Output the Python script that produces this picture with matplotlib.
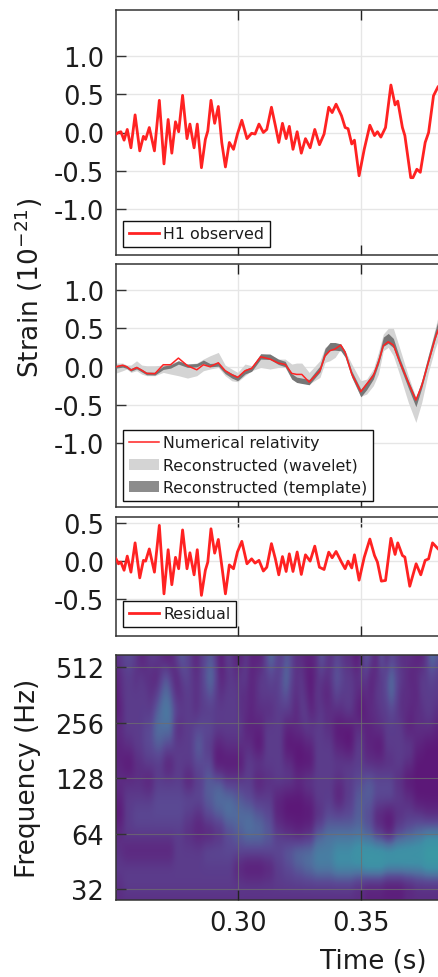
import numpy as np
import matplotlib
matplotlib.use("Agg")
import matplotlib.pyplot as plt
from matplotlib.colors import LinearSegmentedColormap
from matplotlib.lines import Line2D
from matplotlib.patches import Patch
from matplotlib.legend_handler import HandlerLine2D

# ---- data: (ms after 0.25 s, strain in 1e-21) ----
h1_observed = [(0,-0.02),(1,0),(2,0.01),(3.3,-0.10),(4.6,0.04),(6.1,-0.20),(7.8,0.23),(9.7,-0.24),(11.2,-0.05),(12.1,-0.09),
 (13.6,0.065),(15.7,-0.24),(17.7,0.42),(19.6,-0.41),(21.3,0.17),(22.8,-0.27),(24.3,0.14),(25.6,0.01),(27.2,0.485),(29,-0.08),
 (30.2,0.11),(31.9,-0.20),(33.2,0.11),(34.9,-0.46),(36.5,-0.09),(37.5,0.02),(38.8,0.42),(40.3,0.12),(41.8,0.34),(43.2,-0.13),
 (44.7,-0.45),(46.3,-0.13),(48,-0.22),(49.6,-0.02),(51.4,0.16),(53.5,-0.08),(55.4,-0.01),(56.8,-0.02),(58.4,0.11),(60.2,0),
 (61.6,0.04),(63.5,0.33),(65.1,0.09),(66.5,-0.13),(68,0.12),(69.5,-0.08),(70.8,0.08),(72.3,-0.22),(74,0.01),(75.7,-0.27),
 (77.4,-0.08),(79.3,-0.20),(81.2,0.04),(83.1,-0.16),(85,-0.02),(86.9,0.33),(88.3,0.26),(89.9,0.37),(92.1,0.22),(93.6,0.065),
 (94.8,0.05),(96.3,-0.15),(97.4,-0.10),(99.3,-0.565),(101.4,-0.22),(103.7,0.095),(105.6,-0.04),(106.8,0.01),(108.2,-0.06),(110.1,0.065),
 (112.3,0.62),(114,0.36),(115.1,0.41),(117,0.065),(118,-0.04),(120.4,-0.59),(121.3,-0.59),(122.9,-0.48),(124.3,-0.52),(126.3,-0.13),
 (127.7,0),(129.7,0.48),(131.6,0.6),(134,0.65)]

residual = [(0,0.03),(1,-0.035),(2,-0.013),(3.3,-0.12),(4.6,0.066),(6.1,-0.145),(7.8,0.24),(9.7,-0.22),(11.2,0.01),(12.1,0),
 (13.6,0.16),(15.7,-0.145),(17.7,0.47),(19.6,-0.43),(21.3,0.15),(22.8,-0.31),(24.3,0.05),(25.6,-0.10),(27.2,0.41),(29,-0.10),
 (30.2,0.11),(31.9,-0.18),(33.2,0.15),(34.9,-0.45),(36.5,-0.12),(37.5,-0.013),(38.8,0.425),(40.3,0.105),(41.8,0.285),(43.2,-0.057),
 (44.7,-0.43),(46.3,-0.05),(48,-0.10),(49.6,0.12),(51.4,0.26),(53.5,-0.035),(55.4,0.03),(56.8,-0.026),(58.4,0.01),(60.2,-0.13),
 (61.6,-0.08),(63.5,0.23),(65.1,0.03),(66.5,-0.18),(68,0.06),(69.5,-0.136),(70.8,0.096),(72.3,-0.136),(74,0.12),(75.7,-0.175),
 (77.4,0.083),(79.3,0),(81.2,0.197),(83.1,-0.08),(85,-0.11),(86.9,0.118),(88.3,0.044),(89.9,0.127),(92.1,-0.013),(93.6,-0.10),
 (94.8,0),(96.3,-0.09),(97.4,0.083),(99.3,-0.25),(101.4,0.05),(103.7,0.29),(105.6,0.074),(106.8,-0.013),(108.4,-0.263),(110.1,-0.254),
 (112.3,0.30),(114,0.088),(115.1,0.24),(117,0.074),(118,0.053),(120,-0.33),(122.6,-0.035),(124.5,-0.18),(126.3,0.01),(127.7,0.03),
 (129.3,0.24),(131.6,0.16),(134,0.1)]

recon_ms = [0,2.7,4.4,6.1,8.4,10.5,12.5,15.9,19.3,22.3,25.5,29.2,33,35.7,38.4,41.8,44.6,47.3,49.7,52.7,55.4,59.1,
 62.9,66.3,69.1,71.8,73.8,75.9,78.9,
 83.3,85.4,87.4,89.5,91.8,93.6,96.3,100,102.4,105.1,107.2,109.2,111.2,113.3,116,119.4,122.5,124.9,127.6,130.3,131.5,134]
numerical_relativity = [0,0.02,0,-0.045,-0.01,-0.045,-0.087,-0.09,0.026,0.026,0.113,0.013,-0.04,0.026,0,0.052,-0.052,-0.104,-0.139,-0.052,-0.022,0.13,
 0.1,0.048,0.03,-0.087,-0.1,-0.1,-0.2,
 -0.052,0.144,0.209,0.231,0.283,0.188,-0.095,-0.326,-0.226,-0.117,0.057,0.274,0.326,0.283,0.057,-0.204,-0.435,-0.248,0.057,0.362,0.47,0.62]
template_mid = [0,0.013,-0.004,-0.04,-0.01,-0.05,-0.087,-0.09,-0.013,0.004,0.056,0.013,0.02,0.065,0.02,0.03,-0.065,-0.117,-0.152,-0.065,-0.03,0.135,
 0.13,0.065,0.035,-0.126,-0.17,-0.183,-0.2,
 -0.03,0.188,0.266,0.266,0.253,0.166,-0.095,-0.343,-0.248,-0.117,0.078,0.326,0.37,0.309,0.057,-0.226,-0.465,-0.226,0.1,0.405,0.535,0.72]
template_half = [0.018,0.018,0.018,0.018,0.018,0.018,0.018,0.018,0.022,0.022,0.022,0.022,0.022,0.022,0.022,0.022,0.025,0.03,0.03,0.03,0.03,0.035,
 0.035,0.035,0.035,0.035,0.035,0.035,0.035,
 0.04,0.05,0.05,0.05,0.045,0.04,0.04,0.05,0.05,0.045,0.05,0.06,0.065,0.06,0.05,0.05,0.057,0.05,0.05,0.055,0.06,0.07]
wavelet_high = [0.048,0.048,0.022,0.022,0.078,0.022,0.013,0.013,0.022,0.048,0.078,0.035,0.048,0.1,0.143,0.187,0.022,-0.03,-0.074,0.035,0.013,0.152,
 0.165,0.1,0.1,0.035,0.048,0.048,-0.074,
 0.079,0.253,0.296,0.296,0.296,0.209,0.035,-0.182,-0.161,-0.03,0.188,0.427,0.501,0.501,0.231,-0.117,-0.4,-0.182,0.144,0.492,0.644,0.9]
wavelet_low = [-0.083,-0.052,-0.03,-0.074,-0.052,-0.096,-0.117,-0.117,-0.074,-0.096,-0.117,-0.148,-0.117,-0.052,-0.03,-0.009,-0.117,-0.183,-0.196,-0.117,-0.052,-0.009,
 -0.03,-0.009,-0.009,-0.161,-0.196,-0.213,-0.226,
 -0.139,0.057,0.079,0.122,0.231,0.122,-0.139,-0.387,-0.356,-0.248,-0.095,0.209,0.253,0.144,-0.117,-0.465,-0.726,-0.465,-0.074,0.231,0.34,0.55]

strain_ticks = [-1.0,-0.5,0.0,0.5,1.0]
residual_ticks = [-0.5,0.0,0.5]
time_ticks = [0.30,0.35]
freq_ticks = [32,64,128,256,512]

# time-frequency power; rows step 0.3137 octave from the top, columns 2.045 ms (upper rows) / 4.09 ms (lower rows)
heat_top_log2 = 9.144
heat_row_step = 0.3137
heat_col_step = 0.002045
power_high = [
 [2,3,4,4,3,1,2,3,3,2,1,1,3,5,4,3,1,3,4,5,3,0,3,3,1,1,3,1,1,1,4,6,4, 3,5,4,2,2,1,1,2,5,3,2,4,3,2,2,0,2,5,3,1,5,2,4,3,2,2,2,1,1,3,6,5,4],
 [1,2,3,3,2,3,2,2,1,3,5,3,1,3,4,3,2,3,5,6,4,1,2,3,2,3,3,1,2,3,3,4,3, 4,6,4,2,3,1,0,2,3,2,3,5,4,3,3,2,3,3,1,2,3,4,6,4,3,2,1,2,3,3,4,3,3],
 [0,2,3,3,3,3,3,2,3,5,6,5,2,2,3,3,2,3,4,5,3,2,3,3,3,2,2,1,2,3,3,3,3, 4,5,3,2,3,2,0,3,2,1,2,4,3,3,3,2,1,2,1,3,3,4,6,4,2,2,2,1,3,3,3,3,3],
 [0,1,3,3,3,3,3,3,5,6,7,6,4,3,3,3,2,3,3,3,3,3,3,3,3,2,2,1,2,2,2,2,3, 3,3,3,1,3,3,1,2,3,2,2,2,2,3,3,1,0,1,2,2,3,3,4,3,2,2,1,2,2,3,3,2,2],
]
power_low = [
 [2,3,3,4,6,6,2,3,4,4,3,3,3,1,1,3,3,1,2,3,3,2,0,0,2,1,2,3,3,1,2,2,1],
 [1,2,3,4,5,4,3,3,5,3,1,2,2,2,0,3,3,0,0,1,3,3,1,0,3,1,0,3,3,3,1,0,0],
 [1,0,2,3,3,1,3,3,4,4,0,0,0,3,3,3,3,2,0,0,3,3,3,3,3,2,2,2,3,2,0,0,0],
 [2,2,2,1,3,3,3,1,3,5,5,3,3,3,1,2,3,3,2,3,3,3,2,3,4,5,4,4,2,0,0,0,0],
 [1,3,3,3,4,4,4,4,4,5,6,6,5,4,3,3,1,0,0,1,3,3,1,3,5,5,4,4,3,2,0,0,0],
 [0,3,4,4,4,4,4,3,2,4,5,6,6,6,5,4,1,0,0,0,2,4,4,4,5,4,1,0,2,3,3,2,2],
 [2,3,3,3,3,3,3,2,1,1,2,4,5,6,6,5,3,2,1,2,5,6,6,6,6,5,3,1,4,5,6,7,7],
 [2,1,1,1,1,1,3,3,3,4,4,4,4,4,4,4,4,5,6,6,7,7,8,8,9,9,9,9,9,9,9,10,10],
 [3,3,3,3,3,3,3,3,3,3,3,3,1,0,0,1,3,4,5,6,7,7,8,8,8,9,9,8,8,8,8,9,9],
 [2,3,3,3,3,3,3,3,3,3,3,3,3,3,3,3,3,3,3,3,3,3,3,3,2,1,1,0,0,1,2,2,2],
 [2,2,2,2,2,2,2,2,2,2,2,2,2,2,2,2,2,2,2,2,2,2,2,2,2,1,1,1,1,2,2,2,2],
]

# ---- layout helpers ----
W, H = 438, 978
plt.rcParams['axes.unicode_minus'] = False
plt.rcParams['font.family'] = 'DejaVu Sans'
fig = plt.figure(figsize=(W/100, H/100), dpi=100, facecolor='white')
px_per_time = 2448.0
time_lim = (0.25, 0.40)
TXT = '#1c1c1c'

def make_axes(top, bottom):
    return fig.add_axes([116/W, 1-bottom/H, (time_lim[1]-time_lim[0])*px_per_time/W, (bottom-top)/H])

def style(ax, yticks, ylabels=None, grid='#e6e6e6', gw=1.0, galpha=1.0):
    ax.set_xlim(*time_lim)
    ax.set_xticks(time_ticks)
    ax.set_yticks(yticks)
    ax.set_yticklabels(ylabels if ylabels else [f"{v:.1f}" for v in yticks])
    ax.tick_params(axis='x', which='both', direction='in', length=7.5, width=1.0, color='#222222',
                   top=True, bottom=True, labelbottom=False)
    ax.tick_params(axis='y', direction='in', length=7.5, width=1.0, color='#333333', left=True, right=True,
                   labelsize=18.5, pad=8.5, labelcolor=TXT)
    ax.grid(True, color=grid, lw=gw, alpha=galpha, zorder=0)
    ax.set_axisbelow(True)
    for s in ax.spines.values():
        s.set_linewidth(1.1)
        s.set_color('#333333')

def add_legend(ax, handles, left_px, bottom_px, ax_top, ax_bottom):
    ax_w = (time_lim[1]-time_lim[0])*px_per_time
    leg = ax.legend(handles=handles, loc='lower left',
                    bbox_to_anchor=((left_px-116)/ax_w, (ax_bottom-bottom_px)/(ax_bottom-ax_top)),
                    borderaxespad=0, fontsize=11.4, frameon=True, fancybox=False, framealpha=1,
                    edgecolor='#111111', handlelength=1.95, handletextpad=0.25, labelspacing=0.47,
                    borderpad=0.35, handler_map={Line2D: HandlerLine2D(marker_pad=0.18)})
    leg.get_frame().set_linewidth(1.0)
    leg.set_zorder(10)
    for t in leg.get_texts():
        t.set_color(TXT)

RED = '#ff2222'

# panel 1
t1, b1 = 11, 256
ax1 = make_axes(t1, b1)
ax1.plot(0.25+np.array([p[0] for p in h1_observed])/1000, [p[1] for p in h1_observed], color=RED, lw=2.0, solid_joinstyle='round', zorder=3)
ax1.set_ylim(-1.60, 1.60)
style(ax1, strain_ticks)
add_legend(ax1, [Line2D([0],[0],color=RED,lw=2.0,label='H1 observed')], 123, 248, t1, b1)

# panel 2
t2, b2 = 264.5, 508
ax2 = make_axes(t2, b2)
tr = 0.25+np.array(recon_ms)/1000
tm, th = np.array(template_mid), np.array(template_half)
ax2.fill_between(tr, wavelet_low, wavelet_high, color='#d4d4d4', lw=0, zorder=2)
ax2.fill_between(tr, tm-th, tm+th, color='#767676', lw=0, zorder=3)
ax2.plot(tr, numerical_relativity, color=RED, lw=1.1, zorder=4)
ax2.set_ylim(-1.83, 1.347)
style(ax2, strain_ticks)
add_legend(ax2, [Line2D([0],[0],color=RED,lw=1.1,label='Numerical relativity'),
                 Patch(color='#d4d4d4',lw=0,label='Reconstructed (wavelet)'),
                 Patch(color='#8c8c8c',lw=0,label='Reconstructed (template)')], 123, 501.7, t2, b2)

# panel 3
t3, b3 = 518, 636.7
ax3 = make_axes(t3, b3)
ax3.plot(0.25+np.array([p[0] for p in residual])/1000, [p[1] for p in residual], color=RED, lw=2.0, solid_joinstyle='round', zorder=3)
ax3.set_ylim(-0.98, 0.58)
style(ax3, residual_ticks)
add_legend(ax3, [Line2D([0],[0],color=RED,lw=2.0,label='Residual')], 123, 628, t3, b3)

# panel 4: vertical axis is log2(frequency)
ax4 = make_axes(656, 901)
cmap = LinearSegmentedColormap.from_list('gw', ['#5c1878','#5c2f84','#5a4a94','#50709f','#3f8fa6','#3a9ca4'])
P = np.vstack([np.array(power_high, dtype=float), np.repeat(np.array(power_low, dtype=float), 2, axis=1)])
nr, nc = P.shape
ax4.imshow(P, aspect='auto', cmap=cmap, vmin=0, vmax=10, interpolation='bicubic',
           extent=(0.25-heat_col_step/2, 0.25+(nc-0.5)*heat_col_step,
                   heat_top_log2-(nr-0.5)*heat_row_step, heat_top_log2+heat_row_step/2), zorder=1)
ax4.set_ylim(np.log2(28.0), np.log2(594.0))
style(ax4, list(np.log2(freq_ticks)), [str(f) for f in freq_ticks], grid='#6e6e6e', gw=0.8, galpha=0.75)
ax4.set_axisbelow(False)
ax4.tick_params(axis='x', labelbottom=True, labelsize=18.5, pad=7, labelcolor=TXT)
ax4.set_xticklabels([f"{v:.2f}" for v in time_ticks])
ax4.set_xlim(*time_lim)

fig.text(29/W, 1-288/H, 'Strain (10$^{-21}$)', rotation=90, ha='center', va='center', fontsize=19, color=TXT)
fig.text(28/W, 1-778/H, 'Frequency (Hz)', rotation=90, ha='center', va='center', fontsize=19, color=TXT)
fig.text(373/W, 1-962/H, 'Time (s)', ha='center', va='center', fontsize=18.8, color=TXT)

fig.savefig('out.png', dpi=100, facecolor='white')
